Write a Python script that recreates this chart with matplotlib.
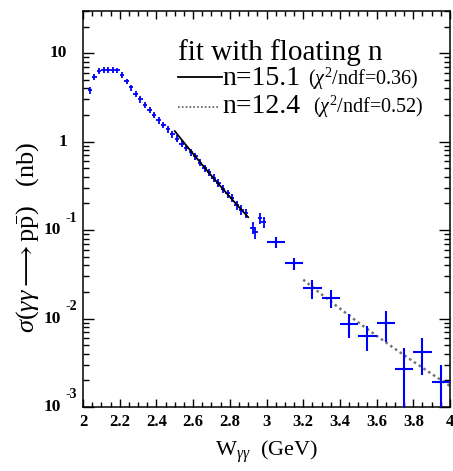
import numpy as np
import matplotlib
matplotlib.use('Agg')
import matplotlib.pyplot as plt
from matplotlib.ticker import MultipleLocator, LogLocator, NullFormatter
from matplotlib.transforms import offset_copy

plt.rcParams['font.family'] = ['Liberation Serif', 'DejaVu Serif']
plt.rcParams['mathtext.fontset'] = 'custom'
plt.rcParams['mathtext.rm'] = 'Liberation Serif'
plt.rcParams['mathtext.it'] = 'Liberation Serif:italic'
plt.rcParams['mathtext.bf'] = 'Liberation Serif:bold'

# ---- data: 25 MeV bins ----
W_fine = [2.0375, 2.0625, 2.0875, 2.1125, 2.1375, 2.1625, 2.1875, 2.2125,
          2.2375, 2.2625, 2.2875, 2.3125, 2.3375, 2.3625, 2.3875, 2.4125,
          2.4375, 2.4625, 2.4875, 2.5125, 2.5375, 2.5625, 2.5875, 2.6125,
          2.6375, 2.6625, 2.6875, 2.7125, 2.7375, 2.7625, 2.7875, 2.8125,
          2.8375, 2.8625, 2.8875, 2.925, 2.94, 2.965, 2.985]
sigma_fine = [3.8, 5.4, 6.3, 6.5, 6.5, 6.5, 6.4, 5.7,
              4.8, 4.1, 3.5, 3.0, 2.6, 2.3, 2.0, 1.75,
              1.55, 1.38, 1.22, 1.08, 0.95, 0.85, 0.76, 0.68,
              0.58, 0.50, 0.45, 0.39, 0.34, 0.29, 0.26, 0.23,
              0.19, 0.17, 0.155, 0.107, 0.094, 0.137, 0.123]
err_fine = [0.35, 0.4, 0.45, 0.45, 0.45, 0.45, 0.45, 0.4,
            0.35, 0.32, 0.28, 0.24, 0.21, 0.19, 0.17, 0.15,
            0.13, 0.12, 0.11, 0.1, 0.085, 0.075, 0.07, 0.062,
            0.055, 0.048, 0.043, 0.038, 0.034, 0.03, 0.027, 0.024,
            0.021, 0.02, 0.019, 0.016, 0.015, 0.019, 0.018]
halfbin_fine = 0.0125

# ---- data: 100 MeV bins ----
W_wide = [3.05, 3.15, 3.25, 3.35, 3.45, 3.55, 3.65, 3.75, 3.85, 3.95]
sigma_wide = [0.073, 0.042, 0.022, 0.017, 0.0086, 0.0063, 0.0088, 0.0027, 0.0042, 0.0019]
err_wide = [0.011, 0.007, 0.0055, 0.004, 0.0026, 0.002, 0.0034, 0.002, 0.0019, 0.0011]
halfbin_wide = 0.05

# ---- fits sigma = A * W^-n ----
n_solid, W0_solid, s0_solid, range_solid = 15.1, 2.51, 1.24, (2.5, 2.9)
n_dot, W0_dot, s0_dot, range_dot = 12.4, 4.0, 0.00173, (3.2, 4.0)

x_ticks = [2.0, 2.2, 2.4, 2.6, 2.8, 3.0, 3.2, 3.4, 3.6, 3.8, 4.0]
x_ticklabels = ['2', '2.2', '2.4', '2.6', '2.8', '3', '3.2', '3.4', '3.6', '3.8', '4']
y_plain = [(10.0, '10'), (1.0, '1')]
y_expo = [(0.1, '-1'), (0.01, '-2'), (0.001, '-3')]

fig = plt.figure(figsize=(4.53, 4.71), dpi=100)
ax = fig.add_axes([83/453, 64/471, 367/453, 396/471])
ax.set_yscale('log')
ax.set_xlim(2.0, 4.0)
ax.set_ylim(1e-3, 30)

blue = '#0000ff'
ax.errorbar(W_fine, sigma_fine, xerr=halfbin_fine, yerr=err_fine, fmt='none',
            ecolor=blue, elinewidth=1.3, capsize=0, zorder=3)
ax.errorbar(W_wide, sigma_wide, xerr=halfbin_wide, yerr=err_wide, fmt='none',
            ecolor=blue, elinewidth=1.5, capsize=0, zorder=3)

ws = np.linspace(*range_solid, 100)
ax.plot(ws, s0_solid * (ws / W0_solid) ** (-n_solid), color='k', lw=1.3, zorder=4)
wd = np.linspace(*range_dot, 100)
ax.plot(wd, s0_dot * (wd / W0_dot) ** (-n_dot), color='0.45', lw=1.8,
        linestyle=(0, (1, 1.3)), zorder=2)

# ticks
ax.set_xticks(x_ticks)
ax.set_xticklabels(x_ticklabels, fontsize=12, fontweight='bold')
ax.xaxis.set_minor_locator(MultipleLocator(0.05))
ax.yaxis.set_major_locator(LogLocator(base=10, numticks=10))
ax.yaxis.set_minor_locator(LogLocator(base=10, subs=np.arange(2, 10), numticks=20))
ax.yaxis.set_minor_formatter(NullFormatter())
ax.tick_params(axis='both', which='both', direction='in', top=True, right=True, width=1.0)
ax.tick_params(axis='x', which='major', length=6, pad=5)
ax.tick_params(axis='x', which='minor', length=3.5)
ax.tick_params(axis='y', which='major', length=8, labelleft=False)
ax.tick_params(axis='y', which='minor', length=4.5)
for s in ax.spines.values():
    s.set_linewidth(1.1)

ytr = ax.get_yaxis_transform()
for v, lab in y_plain:
    ax.text((67 - 83) / 367, v, lab, transform=ytr, ha='right', va='center',
            fontsize=12.5, fontweight='bold')
for v, ex in y_expo:
    ax.text((61 - 83) / 367, v, '10', transform=ytr, ha='right', va='center',
            fontsize=12.5, fontweight='bold')
    ax.text((66 - 83) / 367, v, ex, transform=offset_copy(ytr, fig=fig, x=0, y=12, units='dots'),
            ha='left', va='center', fontsize=10, fontweight='bold')

# axis labels
fig.text((83 + 450) / 2 / 453, 1 - 452 / 471, r'W$_{\gamma\gamma}$  (GeV)', ha='center', va='center', fontsize=16)
fig.text(28 / 453, 1 - 237 / 471, r'$\sigma(\gamma\gamma\longrightarrow\mathrm{p}\bar{\mathrm{p}})$   (nb)',
         rotation=90, ha='center', va='center', fontsize=19)

# legend
def fx(px):
    return (px - 83) / 367

def fy(py):
    return (407 - py) / 396

ax.text(fx(178), fy(60), 'fit with floating n', transform=ax.transAxes, ha='left', va='baseline', fontsize=21)
ax.plot([fx(178), fx(222)], [fy(77), fy(77)], transform=ax.transAxes, color='k', lw=1.3)
ax.text(fx(222), fy(85), 'n=15.1', transform=ax.transAxes, ha='left', va='baseline', fontsize=20)
ax.text(fx(308), fy(85), r'($\chi^2$/ndf=0.36)', transform=ax.transAxes, ha='left', va='baseline', fontsize=14.5)
ax.plot([fx(178), fx(218)], [fy(107), fy(107)], transform=ax.transAxes, color='0.35', lw=1.2,
        linestyle=(0, (1, 1.3)))
ax.text(fx(222), fy(113), 'n=12.4', transform=ax.transAxes, ha='left', va='baseline', fontsize=20)
ax.text(fx(313), fy(113), r'($\chi^2$/ndf=0.52)', transform=ax.transAxes, ha='left', va='baseline', fontsize=14.5)

fig.savefig('out.png', dpi=100)
